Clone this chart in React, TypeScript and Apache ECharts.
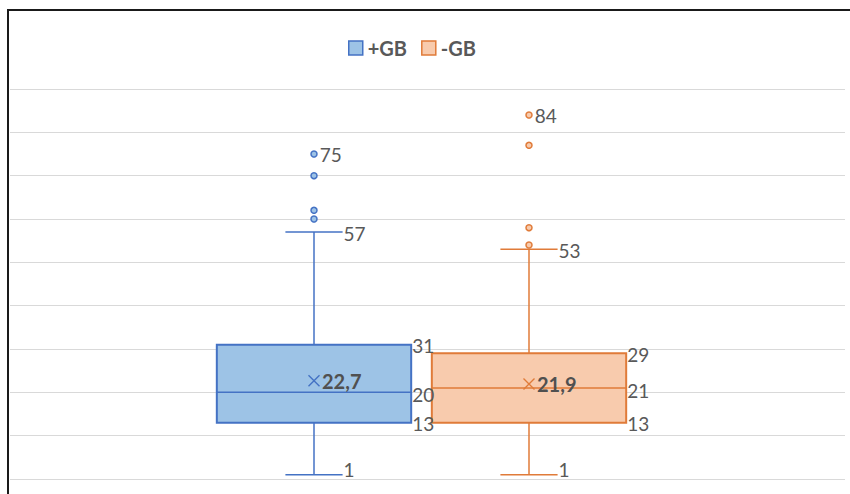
import React, { useEffect, useRef } from "react";
import * as echarts from "echarts";

// Two groups, each summarised as a box plot
const groups = ["+GB", "-GB"];
const minValues = [1, 1];
const q1Values = [13, 13];
const medianValues = [20, 21];
const q3Values = [31, 29];
const maxValues = [57, 53];
const meanValues = [22.7, 21.9];
const outliersPlus = [75, 70, 62, 60];
const outliersMinus = [84, 77, 58, 54];

// Value axis range
const yMin = 0;
const yMax = 90;
const yStep = 10;

const fills = ["#9DC3E6", "#F8CBAD"];
const strokes = ["#4472C4", "#E07B39"];
const textColor = "#595959";
const fontFamily = "Lato, 'Open Sans', sans-serif";

const fmt = (v: number) => (Number.isInteger(v) ? String(v) : v.toFixed(1).replace(".", ","));

function boxSeries(i: number) {
  return {
    type: "custom",
    name: groups[i],
    xAxisIndex: 1,
    yAxisIndex: 1,
    z: 2,
    itemStyle: { color: fills[i], borderColor: strokes[i] },
    encode: { x: 0, y: [1, 2, 3, 4, 5] },
    data: [[i, minValues[i], q1Values[i], medianValues[i], q3Values[i], maxValues[i]]],
    renderItem: (_params: any, api: any) => {
      const cat = api.value(0);
      const vMin = api.value(1);
      const vQ1 = api.value(2);
      const vMed = api.value(3);
      const vQ3 = api.value(4);
      const vMax = api.value(5);
      const band = api.size([1, 0])[0];
      const half = band * 0.452;
      const capHalf = band * 0.133;
      const [cx, yLo] = api.coord([cat, vMin]);
      const yQ1 = api.coord([cat, vQ1])[1];
      const yMed = api.coord([cat, vMed])[1];
      const yQ3 = api.coord([cat, vQ3])[1];
      const yHi = api.coord([cat, vMax])[1];
      const stroke = strokes[i];
      const line = (x1: number, y1: number, x2: number, y2: number, w = 1.5) => ({
        type: "line",
        shape: { x1, y1, x2, y2 },
        style: { stroke, lineWidth: w, fill: null },
      });
      const label = (x: number, y: number, v: number) => ({
        type: "text",
        x,
        y,
        z2: 10,
        style: {
          text: fmt(v),
          fill: textColor,
          font: `19px ${fontFamily}`,
          align: "left",
          verticalAlign: "middle",
        },
      });
      return {
        type: "group",
        children: [
          line(cx, yQ3, cx, yHi),
          line(cx, yQ1, cx, yLo),
          line(cx - capHalf, yHi, cx + capHalf, yHi),
          line(cx - capHalf, yLo, cx + capHalf, yLo),
          {
            type: "rect",
            shape: { x: cx - half, y: yQ3, width: half * 2, height: yQ1 - yQ3 },
            style: { fill: fills[i], stroke, lineWidth: 2 },
          },
          line(cx - half, yMed, cx + half, yMed),
          label(cx + capHalf + 1, yHi + 1, vMax),
          label(cx + capHalf + 1, yLo - 5, vMin),
          label(cx + half + 1, yQ3 + 1, vQ3),
          label(cx + half + 1, yMed + 2, vMed),
          label(cx + half + 1, yQ1 + 1, vQ1),
        ],
      };
    },
  };
}

function outlierSeries(i: number, values: number[]) {
  const top = Math.max(...values);
  return {
    type: "scatter",
    name: groups[i],
    xAxisIndex: 1,
    yAxisIndex: 1,
    z: 3,
    symbol: "circle",
    symbolSize: 6,
    itemStyle: { color: fills[i], borderColor: strokes[i], borderWidth: 1.5, opacity: 1 },
    label: {
      show: false,
      position: "right",
      distance: 2,
      color: textColor,
      fontFamily,
      fontSize: 19,
      formatter: (p: any) => fmt(p.value[1]),
    },
    data: values.map((v) => ({ value: [i, v], label: { show: v === top } })),
  };
}

function meanSeries(i: number) {
  return {
    type: "scatter",
    name: groups[i],
    xAxisIndex: 1,
    yAxisIndex: 1,
    z: 4,
    symbol: "path://M0,0L10,10M10,0L0,10",
    symbolSize: 11,
    itemStyle: { color: "none", borderColor: strokes[i], borderWidth: 1.4, opacity: 1 },
    label: {
      show: true,
      position: "right",
      distance: 0,
      offset: [0, 0],
      color: "#505050",
      fontFamily,
      fontSize: 20,
      fontWeight: "bold",
      formatter: (p: any) => fmt(p.value[1]),
    },
    data: [[i, meanValues[i]]],
  };
}

export default function App() {
  const ref = useRef<HTMLDivElement>(null);

  useEffect(() => {
    if (!ref.current) return;
    const chart = echarts.init(ref.current, null, { renderer: "svg" });
    chart.setOption({
      animation: false,
      backgroundColor: "#ffffff",
      legend: {
        left: 343,
        top: 33,
        itemWidth: 14,
        itemHeight: 14,
        itemGap: 14,
        selectedMode: false,
        data: groups.map((g, i) => ({
          name: g,
          icon: "rect",
          itemStyle: { color: fills[i], borderColor: strokes[i], borderWidth: 1.5 },
        })),
        textStyle: { color: textColor, fontFamily, fontSize: 20, fontWeight: "bold" },
      },
      grid: [
        { left: 10, right: 5, top: 89, height: 390 },
        { left: 206.5, width: 430, top: 89, height: 390 },
      ],
      xAxis: [
        { type: "value", gridIndex: 0, min: 0, max: 1, show: false },
        { type: "category", gridIndex: 1, data: groups, show: false },
      ],
      yAxis: [
        {
          type: "value",
          gridIndex: 0,
          min: yMin,
          max: yMax,
          interval: yStep,
          axisLine: { show: false },
          axisTick: { show: false },
          axisLabel: { show: false },
          splitLine: { show: true, lineStyle: { color: "#D9D9D9", width: 1 } },
        },
        { type: "value", gridIndex: 1, min: yMin, max: yMax, interval: yStep, show: false },
      ],
      graphic: [
        {
          type: "line",
          shape: { x1: 7, y1: 10, x2: 850, y2: 10 },
          style: { stroke: "#1a1a1a", lineWidth: 2 },
        },
        {
          type: "line",
          shape: { x1: 8, y1: 9, x2: 8, y2: 494 },
          style: { stroke: "#1a1a1a", lineWidth: 2 },
        },
      ],
      series: [
        boxSeries(0),
        boxSeries(1),
        outlierSeries(0, outliersPlus),
        outlierSeries(1, outliersMinus),
        meanSeries(0),
        meanSeries(1),
      ],
    });
    return () => chart.dispose();
  }, []);

  return (
    <div
      ref={ref}
      style={{ position: "fixed", left: 0, top: 0, width: 850, height: 494, background: "#fff" }}
    />
  );
}
